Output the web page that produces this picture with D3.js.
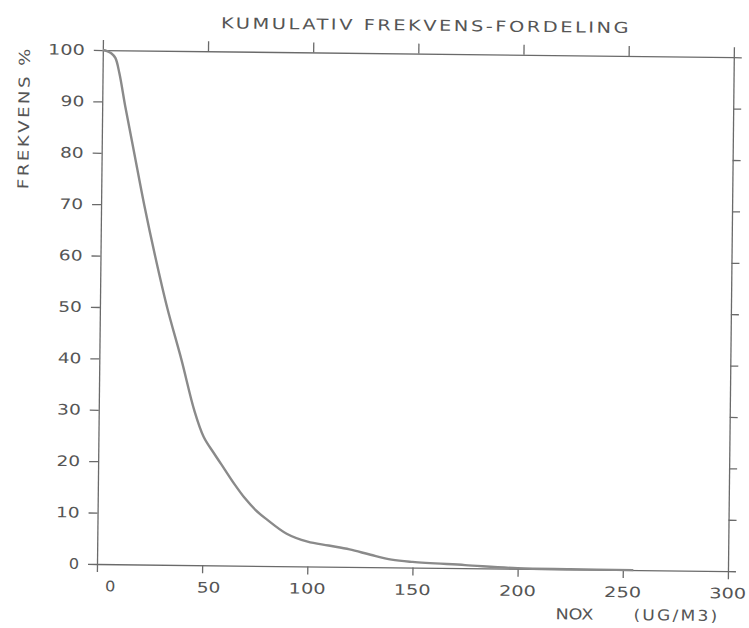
<!DOCTYPE html>
<html>
<head>
<meta charset="utf-8">
<script src="https://cdn.jsdelivr.net/npm/d3@7"></script>
<style>
  body { margin: 0; background: #fff; }
  text { font-family: "DejaVu Sans", sans-serif; fill: #555; }
</style>
</head>
<body>
<div id="chart"></div>
<script>
// cumulative frequency distribution, NOX (ug/m3) vs % of time exceeded
var noxValues = [0, 2, 4, 6, 8, 11, 15.5, 20.5, 26, 32, 39, 45.5, 50, 55, 60, 65, 70, 75, 80, 90, 100, 110, 120, 130, 140, 150, 175, 200, 225, 255];
var freqValues = [100, 99.8, 99.4, 98.5, 95.5, 89, 80, 70, 60, 50, 40, 30, 25, 21.8, 18.8, 15.8, 13.1, 10.9, 9.2, 6.3, 4.8, 4.1, 3.4, 2.4, 1.5, 1.1, 0.6, 0.1, 0.03, 0];
var xTicks = [0, 50, 100, 150, 200, 250, 300];
var yTicks = [0, 10, 20, 30, 40, 50, 60, 70, 80, 90, 100];

var margin = {top: 50, right: 21, bottom: 64, left: 97},
    width = 749 - margin.left - margin.right,
    height = 628 - margin.top - margin.bottom;

var svg = d3.select("#chart")
  .append("svg")
    .attr("width", 749)
    .attr("height", 628);

// the scanned plot is a little rotated, pivot on the origin
var root = svg.append("g")
    .attr("transform", "rotate(0.65," + margin.left + "," + (margin.top + height) + ")");

var g = root.append("g")
    .attr("transform", "translate(" + margin.left + "," + margin.top + ")");

var x = d3.scaleLinear().domain([0, 300]).range([0, width]);
var y = d3.scaleLinear().domain([0, 100]).range([height, 0]);

function styleAxis(sel) {
  sel.selectAll("path, line").attr("stroke", "#6a6a6a").attr("stroke-width", 1.3);
}

// plotter digits are wide, stretch each label to its width
function wideLabels(sel) {
  sel.selectAll("text")
    .attr("font-size", 14.5)
    .attr("text-anchor", "end")
    .attr("textLength", function(d) { return String(d).length * 13.3 - 3; })
    .attr("lengthAdjust", "spacingAndGlyphs");
}

// bottom axis with labels, right aligned in a 3 digit field
g.append("g")
  .attr("transform", "translate(0," + height + ")")
  .call(d3.axisBottom(x).tickValues(xTicks).tickSize(8).tickSizeOuter(0).tickPadding(9))
  .call(styleAxis)
  .call(wideLabels)
  .selectAll("text").attr("x", 18);

// left axis with labels
g.append("g")
  .call(d3.axisLeft(y).tickValues(yTicks).tickSize(9).tickSizeOuter(0).tickPadding(9))
  .call(styleAxis)
  .call(wideLabels);

// top and right frame, ticks only
g.append("g")
  .call(d3.axisTop(x).tickValues(xTicks).tickSize(10).tickSizeOuter(0).tickFormat(""))
  .call(styleAxis);

g.append("g")
  .attr("transform", "translate(" + width + ",0)")
  .call(d3.axisRight(y).tickValues(yTicks).tickSize(8).tickSizeOuter(0).tickFormat(""))
  .call(styleAxis);

// curve
var pts = noxValues.map(function(v, i) { return [v, freqValues[i]]; });
var line = d3.line()
  .x(function(d) { return x(d[0]); })
  .y(function(d) { return y(d[1]); })
  .curve(d3.curveCatmullRom.alpha(0.5));

g.append("path")
  .datum(pts)
  .attr("fill", "none")
  .attr("stroke", "#8a8a8a")
  .attr("stroke-width", 2.4)
  .attr("stroke-linejoin", "round")
  .attr("d", line);

// titles
root.append("text")
  .attr("x", 215).attr("y", 27)
  .attr("font-size", 15)
  .attr("letter-spacing", 2)
  .attr("textLength", 410).attr("lengthAdjust", "spacingAndGlyphs")
  .text("KUMULATIV FREKVENS-FORDELING");

root.append("text")
  .attr("transform", "translate(24,190) rotate(-90)")
  .attr("font-size", 15)
  .attr("letter-spacing", 2)
  .attr("textLength", 143).attr("lengthAdjust", "spacingAndGlyphs")
  .text("FREKVENS %");

root.append("text")
  .attr("x", 556).attr("y", 614)
  .attr("font-size", 15)
  .attr("textLength", 38).attr("lengthAdjust", "spacingAndGlyphs")
  .text("NOX");

root.append("text")
  .attr("x", 634).attr("y", 614)
  .attr("font-size", 15)
  .attr("letter-spacing", 2)
  .attr("textLength", 86).attr("lengthAdjust", "spacingAndGlyphs")
  .text("(UG/M3)");
</script>
</body>
</html>
